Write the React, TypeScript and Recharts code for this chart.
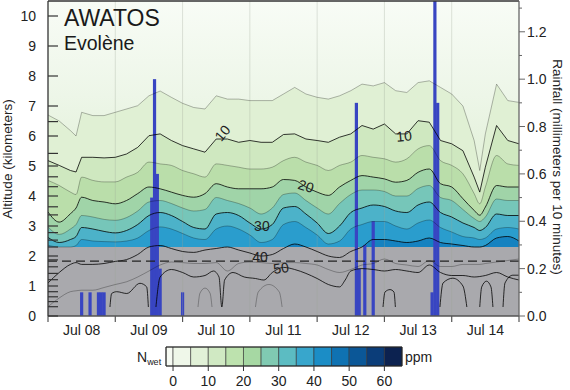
import React from 'react';
import {
  ComposedChart,
  Area,
  Line,
  Bar,
  XAxis,
  YAxis,
  CartesianGrid,
  ReferenceLine,
  ReferenceArea,
  ReferenceDot,
} from 'recharts';

// hours after Jul 08 00:00 at which contour heights (km) were read
const sampleHours = [0, 4, 8, 10, 12, 16, 20, 24, 28, 32, 36, 40, 44, 48, 52, 56, 60, 64, 68, 72, 76, 80, 84, 88, 92, 96, 100, 104, 108, 112, 116, 120, 124, 128, 132, 136, 140, 144, 148, 152, 154, 156, 160, 164, 168];

// N_wet contour heights, one array per level (ppm)
const n05 = [6.7, 6.5, 6.18, 6.0, 6.79, 6.68, 6.68, 6.79, 6.9, 7.01, 7.34, 7.5, 7.29, 7.09, 6.95, 6.9, 7.34, 7.23, 7.23, 7.18, 7.18, 7.18, 7.4, 7.62, 7.4, 7.29, 7.23, 7.34, 7.51, 7.73, 7.67, 7.78, 7.51, 7.45, 7.78, 7.84, 7.62, 7.4, 7.0, 5.85, 4.85, 6.07, 7.73, 7.18, 7.12];
const n10 = [5.18, 5.02, 4.85, 4.8, 5.29, 5.29, 5.27, 5.29, 5.4, 5.62, 6.01, 6.07, 5.85, 5.68, 5.57, 5.46, 5.9, 5.9, 5.79, 5.85, 5.79, 5.79, 6.05, 6.07, 5.9, 5.85, 5.79, 5.96, 6.07, 6.35, 6.23, 6.4, 6.07, 6.07, 6.51, 6.46, 5.85, 5.74, 5.51, 4.63, 4.13, 4.96, 6.35, 5.85, 5.74];
const n15 = [4.52, 4.35, 4.13, 4.05, 4.63, 4.52, 4.47, 4.47, 4.63, 4.79, 5.13, 5.07, 5.02, 4.85, 4.74, 4.63, 5.07, 5.02, 4.96, 4.9, 4.9, 4.96, 5.18, 5.29, 5.13, 5.02, 4.85, 5.02, 5.13, 5.35, 5.29, 5.24, 5.13, 5.24, 5.57, 5.68, 5.18, 5.02, 4.74, 4.08, 3.74, 4.3, 5.35, 5.07, 5.02];
const n20 = [3.47, 3.13, 3.41, 3.6, 3.96, 3.85, 3.8, 3.74, 3.85, 4.08, 4.3, 4.24, 4.13, 4.02, 3.96, 4.08, 4.41, 4.3, 4.24, 4.24, 4.24, 4.3, 4.55, 4.52, 4.3, 4.13, 4.02, 4.3, 4.52, 4.68, 4.63, 4.57, 4.46, 4.52, 4.79, 4.9, 4.41, 4.3, 3.91, 3.52, 3.36, 3.63, 4.35, 4.3, 4.3];
const n25 = [2.97, 2.72, 2.9, 3.05, 3.35, 3.3, 3.22, 3.19, 3.28, 3.5, 3.8, 3.85, 3.75, 3.6, 3.5, 3.55, 3.95, 3.85, 3.75, 3.6, 3.4, 3.6, 4.05, 4.1, 3.85, 3.6, 3.4, 3.75, 4.05, 4.2, 4.2, 4.15, 4.0, 4.0, 4.25, 4.35, 3.95, 3.85, 3.55, 3.25, 3.15, 3.3, 3.9, 3.85, 3.85];
const n30 = [2.62, 2.45, 2.55, 2.65, 2.95, 2.9, 2.82, 2.77, 2.85, 3.05, 3.35, 3.45, 3.35, 3.15, 2.95, 2.9, 3.4, 3.45, 3.35, 3.1, 2.9, 3.05, 3.6, 3.65, 3.4, 3.1, 2.75, 3.0, 3.45, 3.6, 3.7, 3.65, 3.5, 3.45, 3.7, 3.8, 3.45, 3.3, 3.1, 2.95, 2.85, 2.95, 3.4, 3.35, 3.35];
const n35 = [2.36, 2.3, 2.3, 2.35, 2.55, 2.5, 2.48, 2.47, 2.5, 2.6, 2.85, 2.97, 2.9, 2.75, 2.6, 2.55, 2.9, 3.0, 2.9, 2.7, 2.45, 2.55, 3.05, 3.15, 2.95, 2.7, 2.4, 2.5, 2.9, 3.05, 3.15, 3.15, 3.0, 2.9, 3.1, 3.2, 2.95, 2.8, 2.65, 2.6, 2.55, 2.6, 2.9, 2.95, 2.9];
const n40 = [1.1, 1.45, 1.72, 1.78, 1.72, 1.72, 1.75, 1.82, 1.88, 2.05, 2.3, 2.35, 2.25, 2.15, 2.12, 2.2, 2.25, 2.3, 2.2, 2.1, 2.0, 2.05, 2.25, 2.4, 2.3, 2.15, 2.0, 1.95, 2.15, 2.3, 2.55, 2.55, 2.5, 2.45, 2.5, 2.6, 2.45, 2.4, 2.35, 2.3, 2.3, 2.35, 2.6, 2.65, 2.5];
const n45 = [0.31, 0.6, 0.81, 0.84, 0.86, 0.86, 0.95, 1.05, 1.14, 1.3, 1.5, 1.7, 1.8, 1.78, 1.75, 1.75, 1.78, 1.5, 1.75, 1.8, 1.78, 1.75, 1.78, 1.78, 1.75, 1.7, 1.55, 1.45, 1.55, 1.7, 1.75, 1.9, 1.75, 1.7, 1.65, 1.85, 1.65, 1.65, 1.72, 1.72, 1.72, 1.75, 1.8, 1.85, 1.9];

// 50 ppm contour, read on its own time points
const n50 = [
  { t: 38.5, h: 0.3 }, { t: 40, h: 1.3 }, { t: 44, h: 1.55 }, { t: 48, h: 1.45 }, { t: 52, h: 1.3 },
  { t: 56, h: 1.35 }, { t: 59, h: 1.5 }, { t: 61, h: 1.3 }, { t: 62, h: 0.3 }, { t: 63, h: 1.2 },
  { t: 66, h: 1.45 }, { t: 70, h: 1.3 }, { t: 74, h: 1.25 }, { t: 77, h: 1.2 }, { t: 80, h: 1.45 },
  { t: 84, h: 1.62 }, { t: 88, h: 1.55 }, { t: 92, h: 1.42 }, { t: 96, h: 1.25 }, { t: 100, h: 1.05 },
  { t: 104, h: 0.97 }, { t: 106, h: 1.2 }, { t: 108, h: 1.5 }, { t: 112, h: 1.58 }, { t: 116, h: 1.55 },
  { t: 120, h: 1.5 }, { t: 124, h: 1.55 }, { t: 128, h: 1.5 }, { t: 132, h: 1.45 }, { t: 136, h: 1.7 },
  { t: 140, h: 1.45 }, { t: 144, h: 1.35 }, { t: 148, h: 1.35 }, { t: 152, h: 1.3 }, { t: 156, h: 1.35 },
  { t: 160, h: 1.45 }, { t: 164, h: 1.3 }, { t: 168, h: 1.2 },
];

// closed contours near the ground
const arcA = [{ t: 22.1, h: 0.3 }, { t: 22.7, h: 0.75 }, { t: 24.5, h: 0.81 }, { t: 28.1, h: 0.75 }, { t: 32.8, h: 1.09 }, { t: 35.2, h: 0.97 }, { t: 35.8, h: 0.3 }];
const arcB = [{ t: 53.5, h: 0.3 }, { t: 54.2, h: 0.76 }, { t: 56, h: 0.93 }, { t: 57.8, h: 0.76 }, { t: 58.5, h: 0.3 }];
const arcC = [{ t: 74, h: 0.3 }, { t: 75, h: 0.8 }, { t: 78.8, h: 1.05 }, { t: 82.5, h: 0.8 }, { t: 83.5, h: 0.3 }];
const arcD = [{ t: 119.5, h: 0.3 }, { t: 120.2, h: 0.8 }, { t: 122, h: 0.88 }, { t: 123.4, h: 0.8 }, { t: 123.9, h: 0.3 }];
const arcE = [{ t: 139.8, h: 0.3 }, { t: 140.9, h: 1.1 }, { t: 144.4, h: 1.26 }, { t: 148, h: 1.0 }, { t: 149.4, h: 0.3 }];
const arcF = [{ t: 154, h: 0.3 }, { t: 154.7, h: 0.97 }, { t: 156.4, h: 1.16 }, { t: 158, h: 0.97 }, { t: 158.7, h: 0.3 }];
const arcG = [{ t: 162.3, h: 0.3 }, { t: 163, h: 1.1 }, { t: 165.8, h: 1.36 }, { t: 168, h: 1.36 }];

// rainfall, mm per 10 minutes, by hour
const rainHours = [12, 15, 18, 19, 20, 37, 38, 39, 40, 48, 110, 111, 113, 116, 137, 138, 139];
const rainMm = [0.1, 0.1, 0.1, 0.1, 0.1, 0.5, 1.0, 0.6, 0.2, 0.1, 0.9, 0.2, 0.3, 0.4, 0.1, 1.4, 0.9];

const dayLabels = ['Jul 08', 'Jul 09', 'Jul 10', 'Jul 11', 'Jul 12', 'Jul 13', 'Jul 14'];
const hourTicks = [0, 12, 24, 36, 48, 60, 72, 84, 96, 108, 120, 132, 144, 156, 168];
const midnights = [24, 48, 72, 96, 120, 144];
const altTicks = [0, 0.31, 0.48, 0.64, 0.81, 1, 1.21, 1.42, 1.64, 1.87, 2, 2.3, 2.53, 2.78, 3, 3.37, 3.64, 4, 4.31, 4.64, 5, 5.42, 6, 6.48, 7, 8, 9, 10];
const rainTicks = [0, 0.1, 0.2, 0.3, 0.4, 0.5, 0.6, 0.7, 0.8, 0.9, 1.0, 1.1, 1.2, 1.3];

const nwetEdges = [-2, 0, 5, 10, 15, 20, 25, 30, 35, 40, 45, 50, 55, 60, 65];
const nwetTicks = [0, 10, 20, 30, 40, 50, 60];
const nwetColors = ['#f7fbf3', '#eff7e9', '#e1f1d7', '#d0e9c3', '#bde2ae', '#a6d8a3', '#80cab2', '#5cbcc2', '#38a6cc', '#1b8dc6', '#0f72b2', '#0b5797', '#0b3d79', '#0c2250'];

const GROUND_TOP = 2.3;
const DARK = 'rgba(0,0,0,0.78)';
const LIGHT = 'rgba(0,0,0,0.28)';
const RAIN_BLUE = '#3845c2';

const contours = [
  { key: 'n05', vals: n05, fill: '#e0f0d4', stroke: LIGHT, curve: 'linear' },
  { key: 'n10', vals: n10, fill: '#cfe8c0', stroke: DARK, curve: 'linear' },
  { key: 'n15', vals: n15, fill: '#badeaa', stroke: LIGHT, curve: 'monotone' },
  { key: 'n20', vals: n20, fill: '#a0d4a8', stroke: DARK, curve: 'monotone' },
  { key: 'n25', vals: n25, fill: '#76c6b9', stroke: LIGHT, curve: 'monotone' },
  { key: 'n30', vals: n30, fill: '#4cb2c9', stroke: DARK, curve: 'monotone' },
  { key: 'n35', vals: n35, fill: '#2a9dcd', stroke: LIGHT, curve: 'monotone' },
  { key: 'n40', vals: n40, fill: '#1582c0', stroke: DARK, curve: 'monotone' },
  { key: 'n45', vals: n45, fill: '', stroke: LIGHT, curve: 'monotone' },
];

const arcs = [
  { pts: arcA, stroke: DARK },
  { pts: arcB, stroke: LIGHT },
  { pts: arcC, stroke: LIGHT },
  { pts: arcD, stroke: DARK },
  { pts: arcE, stroke: DARK },
  { pts: arcF, stroke: DARK },
  { pts: arcG, stroke: DARK },
];

const rows: Record<string, number>[] = Array.from({ length: 169 }, (_, t) => ({ t }));
contours.forEach(c => sampleHours.forEach((h, i) => { rows[h][c.key] = c.vals[i]; }));
rainHours.forEach((h, i) => { rows[h].rain = rainMm[i]; });

const scaleRows = nwetEdges.map(v => ({ v, y: 0.5 }));

const FONT = '"Liberation Sans", Arial, Helvetica, sans-serif';

const DayTick = (props: any) => {
  const { x, y, payload } = props;
  const v = payload.value;
  if (v % 24 === 0) {
    return <line x1={x} x2={x} y1={y} y2={y + 6} stroke="#555" strokeWidth={1.2} />;
  }
  return (
    <text x={x} y={y + 19} textAnchor="middle" fontSize={14} fill="#222">
      {dayLabels[(v - 12) / 24]}
    </text>
  );
};

const AltTick = (props: any) => {
  const { x, y, payload } = props;
  const v = payload.value;
  const major = Number.isInteger(v);
  return (
    <g>
      <line x1={x} x2={x + 10} y1={y} y2={y} stroke="#333" strokeWidth={1.2} />
      {major && (
        <text x={x - 12} y={y + 5} textAnchor="end" fontSize={14} fill="#222">{v}</text>
      )}
    </g>
  );
};

const RainTick = (props: any) => {
  const { x, y, payload } = props;
  const v = payload.value;
  const major = Math.round(v * 10) % 2 === 0;
  return (
    <g>
      <line x1={x} x2={x + (major ? 6 : 3)} y1={y} y2={y} stroke="#666" strokeWidth={1} />
      {major && (
        <text x={x + 8} y={y + 5} textAnchor="start" fontSize={14} fill="#222">{v.toFixed(1)}</text>
      )}
    </g>
  );
};

const ScaleTick = (props: any) => {
  const { x, y, payload } = props;
  return (
    <g>
      <line x1={x} x2={x} y1={y} y2={y + 5} stroke="#333" strokeWidth={1} />
      <text x={x} y={y + 20} textAnchor="middle" fontSize={14} fill="#222">{payload.value}</text>
    </g>
  );
};

// rain bars are drawn 3px wide, centred on their hour
const RainShape = (props: any) => {
  const { x, y, width, height } = props;
  if (!height || height <= 0) return <g />;
  return <rect x={x + width / 2 - 1.6} y={y} width={3.2} height={height} fill={RAIN_BLUE} />;
};

const contourLabels = [
  { t: 62.2, h: 6.1, text: '10', angle: -50 },
  { t: 127, h: 6.0, text: '10', angle: -5 },
  { t: 92, h: 4.33, text: '20', angle: 18 },
  { t: 76.3, h: 3.0, text: '30', angle: 0 },
  { t: 75.6, h: 1.97, text: '40', angle: 0 },
  { t: 83.1, h: 1.6, text: '50', angle: -8 },
];

export default function App() {
  return (
    <div style={{ position: 'absolute', left: 0, top: 0, width: 570, height: 390, background: '#fff', fontFamily: FONT }}>
      <svg width={0} height={0} style={{ position: 'absolute' }}>
        <defs>
          <linearGradient id="skyFade" x1="0" y1="0" x2="0" y2="1">
            <stop offset="0" stopColor="#f8fcf6" />
            <stop offset="0.3" stopColor="#edf6e8" />
            <stop offset="0.6" stopColor="#dfefd4" />
          </linearGradient>
        </defs>
      </svg>

      <div style={{ position: 'absolute', left: 0, top: 0 }}>
        <ComposedChart width={570} height={340} data={rows} margin={{ top: 1, right: 6, bottom: 0, left: 8 }}>
          <CartesianGrid horizontal={false} vertical={false} fill="url(#skyFade)" />
          <XAxis
            dataKey="t"
            type="number"
            domain={[0, 168]}
            ticks={hourTicks}
            interval={0}
            tickLine={false}
            tickSize={0}
            tickMargin={0}
            tick={<DayTick />}
            axisLine={{ stroke: '#555', strokeWidth: 1.5 }}
            height={24}
            allowDataOverflow
          />
          <YAxis
            domain={[0, 10.5]}
            ticks={altTicks}
            interval={0}
            tickLine={false}
            tickSize={0}
            tickMargin={0}
            tick={<AltTick />}
            axisLine={{ stroke: '#333', strokeWidth: 1.3 }}
            width={40}
            allowDataOverflow
          />
          <YAxis
            yAxisId="rain"
            orientation="right"
            domain={[0, 1.33]}
            ticks={rainTicks}
            interval={0}
            tickLine={false}
            tickSize={0}
            tickMargin={0}
            tick={<RainTick />}
            axisLine={{ stroke: '#666', strokeWidth: 1.3 }}
            width={45}
            allowDataOverflow
          />

          {contours.filter(c => c.fill).map(c => (
            <Area
              key={'a' + c.key}
              dataKey={c.key}
              type={c.curve as any}
              baseValue={0}
              connectNulls
              stroke="none"
              fill={c.fill}
              fillOpacity={1}
              dot={false}
              activeDot={false}
              isAnimationActive={false}
            />
          ))}

          <ReferenceArea x1={0} x2={168} y1={0} y2={GROUND_TOP} fill="#a9a9ad" fillOpacity={1} stroke="none" />

          {midnights.map(m => (
            <ReferenceLine key={'g' + m} x={m} stroke="#9aa596" strokeOpacity={0.3} strokeWidth={1} />
          ))}

          {contours.map(c => (
            <Line
              key={'l' + c.key}
              dataKey={c.key}
              type={c.curve as any}
              connectNulls
              stroke={c.stroke}
              strokeWidth={1}
              dot={false}
              activeDot={false}
              isAnimationActive={false}
            />
          ))}
          <Line data={n50} dataKey="h" type="monotone" stroke={DARK} strokeWidth={1} dot={false} activeDot={false} isAnimationActive={false} />
          {arcs.map((a, i) => (
            <Line key={'arc' + i} data={a.pts} dataKey="h" type="monotone" stroke={a.stroke} strokeWidth={1} dot={false} activeDot={false} isAnimationActive={false} />
          ))}

          <ReferenceLine y={1.83} stroke="#222" strokeWidth={1.3} strokeDasharray="9 5" />
          <ReferenceLine y={10.5} stroke="#333" strokeWidth={1.5} />

          {contourLabels.map((l, i) => (
            <ReferenceDot
              key={'cl' + i}
              x={l.t}
              y={l.h}
              r={0}
              fill="none"
              stroke="none"
              label={{ value: l.text, position: 'center', angle: l.angle, fontSize: 14, fill: '#222' }}
            />
          ))}

          <Bar yAxisId="rain" dataKey="rain" fill={RAIN_BLUE} shape={<RainShape />} isAnimationActive={false} />
        </ComposedChart>
      </div>

      <div style={{ position: 'absolute', left: 0, top: 340 }}>
        <ComposedChart
          width={570}
          height={50}
          data={scaleRows}
          margin={{ top: 7, right: 168, bottom: 0, left: 166 }}
        >
          <XAxis
            dataKey="v"
            type="number"
            domain={[-2, 65]}
            ticks={nwetTicks}
            interval={0}
            tickLine={false}
            tickSize={0}
            tickMargin={0}
            tick={<ScaleTick />}
            axisLine={false}
            height={24}
            allowDataOverflow
          />
          <YAxis hide type="number" domain={[0, 1]} allowDataOverflow />
          <Line dataKey="y" stroke="none" dot={false} activeDot={false} isAnimationActive={false} />
          {nwetColors.map((col, i) => (
            <ReferenceArea
              key={'s' + i}
              x1={nwetEdges[i]}
              x2={nwetEdges[i + 1]}
              y1={0}
              y2={1}
              fill={col}
              fillOpacity={1}
              stroke="#333"
              strokeWidth={0.6}
              ifOverflow="extendDomain"
            />
          ))}
          <ReferenceArea x1={-2} x2={65} y1={0} y2={1} fill="none" stroke="#222" strokeWidth={1} />
        </ComposedChart>
      </div>

      <svg width={570} height={390} style={{ position: 'absolute', left: 0, top: 0, pointerEvents: 'none' }}>
        <text x={64} y={26} fontSize={23} fill="#1a1a1a">AWATOS</text>
        <text x={64} y={50} fontSize={19.5} fill="#1a1a1a">Evolène</text>
        <text transform="translate(12,159) rotate(-90)" textAnchor="middle" fontSize={13.5} fill="#222">
          Altitude (kilometers)
        </text>
        <text transform="translate(553,167) rotate(90)" textAnchor="middle" fontSize={13.5} fill="#222">
          Rainfall (millimeters per 10 minutes)
        </text>
        <text x={137} y={362} fontSize={14} fill="#222">
          N<tspan fontSize={9} dy={3}>wet</tspan>
        </text>
        <text x={405} y={362} fontSize={14} fill="#222">ppm</text>
      </svg>
    </div>
  );
}
